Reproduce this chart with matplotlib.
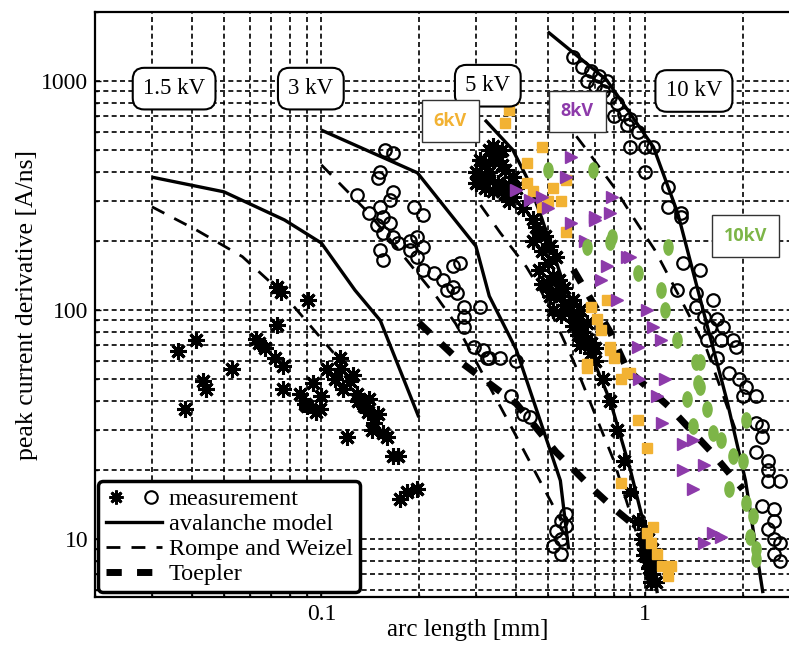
import numpy as np
import matplotlib.pyplot as plt
from matplotlib.path import Path
from matplotlib.lines import Line2D
from matplotlib.legend_handler import HandlerTuple
from matplotlib.ticker import FuncFormatter, NullFormatter

plt.rcParams['font.family'] = ['Liberation Serif', 'DejaVu Serif']

# measurements: arc length [mm], peak current derivative [A/ns]
star15_x = [0.036, 0.041, 0.043, 0.044, 0.038, 0.053, 0.063, 0.064, 0.067, 0.072, 0.076, 0.073, 0.075,
            0.091, 0.073, 0.076, 0.086, 0.089, 0.099, 0.096, 0.1, 0.094, 0.09, 0.12, 0.104, 0.114, 0.123,
            0.129, 0.139, 0.145, 0.167, 0.155, 0.172, 0.184, 0.197, 0.175, 0.16, 0.11, 0.117, 0.13, 0.135,
            0.115, 0.125, 0.14, 0.15, 0.143]
star15_y = [66, 74, 49, 45, 37, 55, 75, 72, 68, 62, 57, 126, 120, 111, 86, 45, 43, 39, 37, 36, 42, 48, 38,
            28, 55, 62, 49, 43, 36, 32, 23, 29, 23, 16, 16.5, 15, 28, 50, 45, 40, 38, 55, 52, 41, 35, 30]

circ3_x = [0.157, 0.167, 0.152, 0.15, 0.129, 0.167, 0.163, 0.152, 0.155, 0.149, 0.163, 0.155, 0.167, 0.172,
           0.152, 0.155, 0.193, 0.206, 0.188, 0.197, 0.188, 0.206, 0.197, 0.206, 0.222, 0.238, 0.255, 0.268,
           0.255, 0.262, 0.245, 0.275, 0.31, 0.275, 0.275, 0.295, 0.325, 0.357, 0.4, 0.384, 0.44, 0.33, 0.316,
           0.42, 0.55, 0.53, 0.57, 0.52, 0.55, 0.57, 0.55, 0.14]
circ3_y = [500, 485, 400, 377, 318, 327, 302, 282, 255, 235, 240, 217, 208, 196, 183, 165, 282, 260, 200, 208,
           183, 189, 171, 150, 145, 135, 155, 160, 126, 118, 122, 103, 103, 93, 84, 69, 62, 62, 60, 42, 34, 62,
           67, 35, 12, 10.8, 11.4, 9.3, 8.6, 12.8, 10, 265]

star5_x = [0.33, 0.35, 0.36, 0.34, 0.37, 0.31, 0.33, 0.35, 0.38, 0.36, 0.40, 0.38, 0.42, 0.45, 0.47, 0.45,
           0.48, 0.5, 0.47, 0.52, 0.5, 0.53, 0.55, 0.56, 0.58, 0.6, 0.62, 0.6, 0.64, 0.66, 0.63, 0.68, 0.70,
           0.74, 0.78, 0.82, 0.86, 0.9, 0.95, 0.98, 1.0, 1.02, 1.05, 1.03, 0.99,
           0.31, 0.32, 0.34, 0.36, 0.30, 0.32, 0.34, 0.37, 0.39, 0.30, 0.33, 0.39,
           0.46, 0.49, 0.51, 0.53, 0.48, 0.51, 0.54, 0.56, 0.52, 0.55,
           0.60, 0.63, 0.66, 0.62, 0.68, 0.70, 1.0, 1.02, 1.05, 1.07, 1.04, 1.08]
star5_y = [500, 470, 430, 450, 410, 380, 370, 360, 350, 330, 340, 300, 280, 250, 220, 200, 180, 160, 150, 140,
           130, 120, 115, 105, 100, 95, 90, 85, 80, 75, 70, 65, 60, 50, 40, 30, 22, 16, 12, 10, 9, 8, 7, 7.5, 8.5,
           450, 430, 520, 500, 400, 340, 330, 320, 310, 360, 400, 380,
           230, 210, 190, 170, 130, 115, 135, 125, 100, 95,
           110, 100, 88, 78, 72, 68, 11, 10, 9, 8, 6.5, 6.5]

circ10_x = [0.6, 0.64, 0.68, 0.72, 0.76, 0.66, 0.7, 0.74, 0.78, 0.82, 0.86, 0.9, 0.95, 0.8, 0.88, 0.9, 1.0,
            1.06, 1.0, 1.18, 1.18, 1.29, 1.29, 1.31, 1.48, 1.25, 1.44, 1.44, 1.62, 1.52, 1.67, 1.59, 1.74, 1.55,
            1.71, 1.87, 1.67, 1.91, 1.82, 1.95, 2.05, 2.2, 2.0, 2.3, 2.4, 2.6, 2.5, 2.5, 2.6, 2.2, 2.3, 2.2, 2.4,
            2.4, 2.5, 2.4, 2.6, 2.5, 2.3]
circ10_y = [1270, 1150, 1100, 1050, 1000, 1000, 950, 900, 850, 800, 720, 680, 600, 700, 640, 515, 515, 515,
            400, 345, 282, 265, 255, 160, 150, 122, 119, 103, 111, 93, 91, 84, 84, 74, 74, 74, 62, 69, 53, 50,
            46, 42, 42, 31, 22, 18, 12, 10, 8, 32, 28, 24, 20, 18, 13.5, 11, 9.6, 8.6, 14]

kv6_x = [0.38, 0.39, 0.37, 0.48, 0.43, 0.43, 0.5, 0.55, 0.57, 0.48, 0.57, 0.68, 0.71, 0.73, 0.78, 0.8, 0.9,
         0.84, 0.76, 0.66, 0.95, 1.01, 0.84, 1.01, 1.04, 1.09, 1.13, 1.18, 1.2, 1.06, 0.66, 0.78, 0.88, 0.45, 0.52]
kv6_y = [750, 830, 655, 515, 440, 360, 300, 300, 370, 282, 218, 103, 91, 82, 67, 62, 53, 50, 111, 56, 33, 25,
         17.6, 10.6, 9.6, 8.6, 7.6, 6.9, 7.6, 11.3, 58, 69, 53, 330, 340]

kv8_x = [0.59, 0.57, 0.4, 0.44, 0.48, 0.79, 0.7, 0.78, 0.9, 0.59, 0.7, 0.76, 0.88, 0.73, 0.82, 1.01, 1.06,
         1.12, 0.95, 0.96, 1.15, 1.09, 1.13, 1.31, 1.4, 1.52, 1.31, 1.4, 1.62, 1.52, 1.71, 0.5, 0.65]
kv8_y = [466, 381, 334, 302, 312, 312, 255, 265, 171, 240, 248, 155, 171, 135, 111, 100, 84, 74, 69, 50, 50,
         42, 32, 26, 27, 21, 20, 16.5, 10.6, 9.6, 10.2, 280, 200]

kv10_x = [0.5, 0.69, 0.66, 0.79, 0.95, 1.18, 1.12, 1.15, 0.78, 1.25, 1.48, 1.46, 1.44, 1.48, 1.35, 1.55, 1.4,
          1.62, 1.71, 1.87, 2.05, 2.0, 1.82, 2.05, 2.15, 2.1, 2.2, 2.2]
kv10_y = [410, 410, 188, 209, 145, 188, 122, 100, 198, 74, 59, 48, 59, 46, 41, 37, 31, 29, 27, 23, 33, 22,
          16.5, 14.4, 12.6, 10.2, 9.0, 8.2]

# model curves
aval15_x = [0.03, 0.05, 0.077, 0.1, 0.127, 0.152, 0.2]
aval15_y = [380, 328, 247, 196, 122, 90, 34]
aval3_x = [0.1, 0.198, 0.3, 0.33, 0.4, 0.547, 0.58]
aval3_y = [610, 397, 190, 115, 67, 18, 9]
aval5_x = [0.32, 0.39, 0.43, 0.48, 0.55, 0.65, 0.78, 0.9, 1.0, 1.09]
aval5_y = [676, 500, 381, 250, 140, 75, 40, 20, 11, 5.8]
aval10_x = [0.5, 0.76, 1.06, 1.26, 1.48, 1.79, 2.04, 2.31]
aval10_y = [1640, 1010, 515, 265, 111, 40, 18, 5.8]

rw15_x = [0.03, 0.041, 0.057, 0.076, 0.109]
rw15_y = [282, 224, 171, 118, 65]
rw3_x = [0.1, 0.14, 0.228, 0.26, 0.39, 0.55]
rw3_y = [430, 265, 113, 87, 30, 12]
rw5_x = [0.31, 0.357, 0.43, 0.48, 0.6, 0.8, 1.0]
rw5_y = [287, 217, 154, 119, 60, 22, 8]
rw10_x = [0.55, 0.66, 0.74, 0.8, 0.9, 1.07, 1.29, 1.55, 1.9]
rw10_y = [700, 500, 400, 345, 265, 183, 111, 67, 30]

toep3_x = [0.2, 0.27, 0.4, 0.53, 0.69, 0.81, 0.99]
toep3_y = [88, 59, 39, 24, 16.5, 13.4, 10.6]
toep5_x = [0.6, 0.78, 0.88, 1.18, 1.6, 2.0]
toep5_y = [150, 80, 55, 38, 24, 16.5]

c6 = '#f2b233'
c8 = '#8d3aaa'
c10 = '#7db548'

fig = plt.figure(figsize=(7.89, 6.47), dpi=100)
ax = fig.add_axes([95 / 789, 50 / 647, 694 / 789, 585 / 647])
ax.set_xscale('log')
ax.set_yscale('log')
ax.set_xlim(0.02, 2.78)
ax.set_ylim(5.58, 2000)

ax.set_axisbelow(True)
ax.grid(True, which='both', color='black', linestyle=(0, (3, 2)), linewidth=1.2)

solid = dict(color='black', lw=2.4, solid_capstyle='butt', zorder=3)
rw = dict(color='black', lw=2.0, linestyle=(0, (5, 4)), zorder=3)
toep = dict(color='black', lw=5.0, linestyle=(0, (2.2, 2.2)), zorder=3)
for xs, ys in [(aval15_x, aval15_y), (aval3_x, aval3_y), (aval5_x, aval5_y), (aval10_x, aval10_y)]:
    ax.plot(xs, ys, **solid)
for xs, ys in [(rw15_x, rw15_y), (rw3_x, rw3_y), (rw5_x, rw5_y), (rw10_x, rw10_y)]:
    ax.plot(xs, ys, **rw)
for xs, ys in [(toep3_x, toep3_y), (toep5_x, toep5_y)]:
    ax.plot(xs, ys, **toep)

star = (8, 2, 0)
ax.plot(star15_x, star15_y, ls='none', marker=star, ms=12, mew=2.2, color='black', zorder=4)
ax.plot(star5_x, star5_y, ls='none', marker=star, ms=12, mew=2.2, color='black', zorder=4)
ax.plot(circ3_x, circ3_y, ls='none', marker='o', ms=9, mfc='none', mec='black', mew=1.6, zorder=4)
ax.plot(circ10_x, circ10_y, ls='none', marker='o', ms=9, mfc='none', mec='black', mew=1.6, zorder=4)

circ = Path.unit_circle()
ellipse = Path(circ.vertices * np.array([0.6, 1.0]), circ.codes)
ax.plot(kv6_x, kv6_y, ls='none', marker='s', ms=7, color=c6, zorder=5)
ax.plot(kv8_x, kv8_y, ls='none', marker='>', ms=8, color=c8, zorder=5)
ax.plot(kv10_x, kv10_y, ls='none', marker=ellipse, ms=11, color=c10, zorder=5)

# ticks
ax.xaxis.set_major_formatter(FuncFormatter(lambda v, p: '%g' % v))
ax.yaxis.set_major_formatter(FuncFormatter(lambda v, p: '%g' % v))
ax.xaxis.set_minor_formatter(NullFormatter())
ax.yaxis.set_minor_formatter(NullFormatter())
ax.tick_params(which='both', direction='in', labelsize=17, width=1.0)
ax.tick_params(which='major', length=4, pad=5)
ax.tick_params(which='minor', length=2)
ax.spines['right'].set_visible(False)
for s in ['left', 'top', 'bottom']:
    ax.spines[s].set_linewidth(1.6)

ax.set_xlabel('arc length [mm]', fontsize=18, labelpad=0)
ax.xaxis.set_label_coords(0.537, -0.038)
ax.set_ylabel('peak current derivative [A/ns]', fontsize=18.5, labelpad=2)

# voltage boxes
kv_box = dict(boxstyle='round,pad=0.45,rounding_size=0.5', fc='white', ec='black', lw=1.5)
for tx, ty, s in [(0.114, 0.869, '1.5 kV'), (0.311, 0.869, '3 kV'), (0.566, 0.874, '5 kV'),
                  (0.863, 0.865, '10 kV')]:
    ax.text(tx, ty, s, transform=ax.transAxes, ha='center', va='center', fontsize=16.5,
            bbox=kv_box, zorder=6)

col_box = dict(boxstyle='square,pad=0.65', fc='white', ec='#333333', lw=1.0)
for tx, ty, s, c in [(0.512, 0.814, '6kV', c6), (0.695, 0.830, '8kV', c8), (0.938, 0.617, '10kV', c10)]:
    ax.text(tx, ty, s, transform=ax.transAxes, ha='center', va='center', fontsize=13,
            family='Open Sans', weight='bold', color=c, bbox=col_box, zorder=6)

# legend
h_meas = (Line2D([], [], ls='none', marker=star, ms=10, mew=2, color='black'),
          Line2D([], [], ls='none', marker='o', ms=9, mfc='none', mec='black', mew=1.5))
h_aval = Line2D([], [], color='black', lw=2.4)
h_rw = Line2D([], [], color='black', lw=2.0, linestyle=(0, (5, 4)))
h_toep = Line2D([], [], color='black', lw=5.0, linestyle=(0, (2.2, 2.2)))
leg = ax.legend([h_meas, h_aval, h_rw, h_toep],
                ['measurement', 'avalanche model', 'Rompe and Weizel', 'Toepler'],
                handler_map={tuple: HandlerTuple(ndivide=None, pad=0.6)},
                loc='lower left', bbox_to_anchor=(0.005, 0.008), fontsize=17.5, handlelength=2.3,
                handletextpad=0.3, labelspacing=0.12, borderpad=0.3, borderaxespad=0,
                fancybox=True, framealpha=1, edgecolor='black')
leg.get_frame().set_linewidth(2.5)
leg.set_zorder(7)

fig.savefig('out.png', dpi=100)
